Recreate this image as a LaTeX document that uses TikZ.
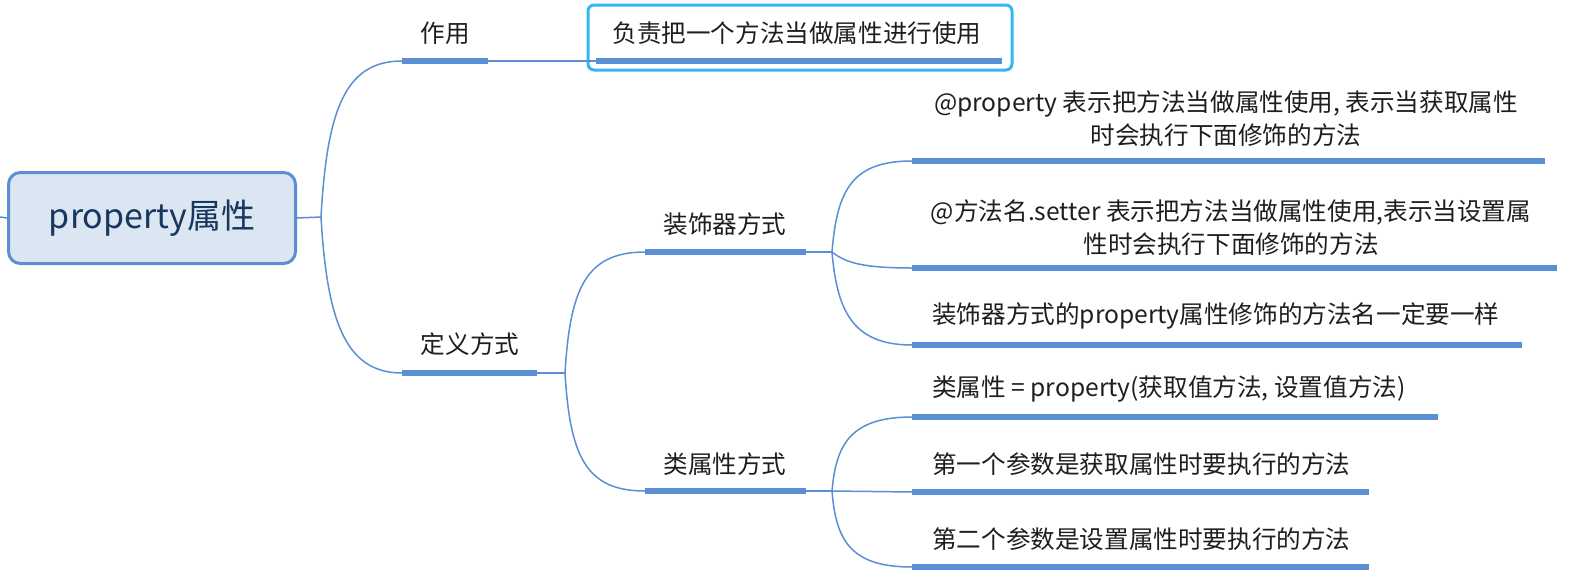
\documentclass[tikz,border=0pt]{standalone}
\usepackage{fontspec}
\setmainfont{Noto Sans CJK SC}
\definecolor{lineblue}{HTML}{5A8FD6}
\definecolor{boxblue}{HTML}{33B6F2}
\definecolor{rootfill}{HTML}{DCE6F2}
\definecolor{rootc}{HTML}{17375E}
\definecolor{textc}{HTML}{1E1E1E}
\begin{document}
\begin{tikzpicture}[x=1pt,y=-1pt,
  conn/.style={draw=lineblue, line width=1.5pt},
  bar/.style={draw=lineblue, line width=5.5pt},
  lbl/.style={inner sep=0pt, font=\fontsize{24.6}{33}\selectfont, text=textc},
  leaf/.style={lbl, anchor=west}]
\useasboundingbox (0,0) rectangle (1575,579);
% root
\node[draw=lineblue, line width=3pt, fill=rootfill, rounded corners=12pt,
  minimum width=287pt, minimum height=91pt, text=rootc,
  font=\fontsize{34}{40}\selectfont] (root) at (152,218) {property属性};
\coordinate (lstub) at (0,217);
\draw[conn] (lstub) -- (root.west);
\coordinate (b0) at (321,217);
\draw[conn] (root.east) -- (b0);
% 作用
\coordinate (zyL) at (402,61); \coordinate (zyR) at (488,61);
\draw[bar] (zyL) -- (zyR);
\node[lbl] (zy) at (445,33) {作用};
\draw[conn] (b0) .. controls (327,110) and (345,61) .. (zyL);
% box
\node[draw=boxblue, line width=3pt, rounded corners=6pt, minimum width=424pt,
  minimum height=65pt, inner sep=0pt] (box) at (800,37.5) {};
\node[lbl] (fz) at (797,33) {负责把一个方法当做属性进行使用};
\coordinate (fzL) at (596,61); \coordinate (fzR) at (1002,61);
\draw[bar] (fzL) -- (fzR);
\draw[conn] (zyR) -- (fzL);
% 定义方式
\coordinate (dyL) at (402,373); \coordinate (dyR) at (537,373);
\draw[bar] (dyL) -- (dyR);
\node[lbl] (dy) at (470,344) {定义方式};
\draw[conn] (b0) .. controls (327,320) and (345,373) .. (dyL);
\coordinate (b1) at (565,373);
\draw[conn] (dyR) -- (b1);
% 装饰器方式
\coordinate (zsL) at (645,252); \coordinate (zsR) at (806,252);
\draw[bar] (zsL) -- (zsR);
\node[lbl] (zs) at (725,224) {装饰器方式};
\draw[conn] (b1) .. controls (570,290) and (585,252) .. (zsL);
\coordinate (b2) at (832,252);
\draw[conn] (zsR) -- (b2);
% 类属性方式
\coordinate (lsL) at (645,491); \coordinate (lsR) at (806,491);
\draw[bar] (lsL) -- (lsR);
\node[lbl] (ls) at (725,464) {类属性方式};
\draw[conn] (b1) .. controls (570,455) and (585,491) .. (lsL);
\coordinate (b3) at (832,491);
\draw[conn] (lsR) -- (b3);
% leaves of 装饰器方式
\coordinate (a1L) at (912,161); \coordinate (a1R) at (1545,161);
\draw[bar] (a1L) -- (a1R);
\node[lbl, align=center] (a1) at (1226,119) {@property 表示把方法当做属性使用, 表示当获取属性\\时会执行下面修饰的方法};
\draw[conn] (b2) .. controls (837,190) and (852,161) .. (a1L);
\coordinate (a2L) at (912,268); \coordinate (a2R) at (1557,268);
\draw[bar] (a2L) -- (a2R);
\node[lbl, align=center] (a2) at (1231,228) {@方法名.setter 表示把方法当做属性使用,表示当设置属\\性时会执行下面修饰的方法};
\draw[conn] (b2) .. controls (845,262) and (860,268) .. (a2L);
\coordinate (a3L) at (912,345); \coordinate (a3R) at (1522,345);
\draw[bar] (a3L) -- (a3R);
\node[leaf] (a3) at (932,316) {装饰器方式的property属性修饰的方法名一定要一样};
\draw[conn] (b2) .. controls (837,310) and (852,345) .. (a3L);
% leaves of 类属性方式
\coordinate (c1L) at (912,417); \coordinate (c1R) at (1438,417);
\draw[bar] (c1L) -- (c1R);
\node[leaf] (c1) at (932,389) {类属性 = property(获取值方法, 设置值方法)};
\draw[conn] (b3) .. controls (836,445) and (850,417) .. (c1L);
\coordinate (c2L) at (912,492); \coordinate (c2R) at (1369,492);
\draw[bar] (c2L) -- (c2R);
\node[leaf] (c2) at (932,464) {第一个参数是获取属性时要执行的方法};
\draw[conn] (b3) -- (c2L);
\coordinate (c3L) at (912,567); \coordinate (c3R) at (1369,567);
\draw[bar] (c3L) -- (c3R);
\node[leaf] (c3) at (932,539) {第二个参数是设置属性时要执行的方法};
\draw[conn] (b3) .. controls (836,540) and (850,567) .. (c3L);
\end{tikzpicture}
\end{document}
